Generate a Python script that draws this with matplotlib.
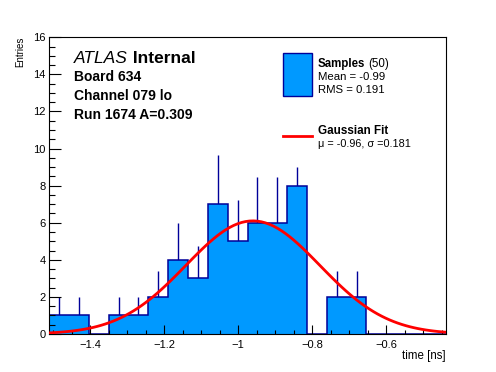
import numpy as np
import matplotlib
matplotlib.use("Agg")
import matplotlib.pyplot as plt
from matplotlib.ticker import MultipleLocator, FuncFormatter
from matplotlib.patches import Rectangle
from matplotlib.lines import Line2D

# histogram of sample times, 20 equal bins over the axis range
x_range = [-1.510, -0.439]
counts = [1, 1, 0, 1, 1, 2, 4, 3, 7, 5, 6, 6, 8, 0, 2, 2, 0, 0, 0, 0]
errors = [1, 1, 0, 1, 1, 1.41, 2, 1.73, 2.65, 2.24, 2.45, 2.45, 1.0, 0, 1.41, 1.41, 0, 0, 0, 0]

# gaussian fit parameters
fit_amp = 6.1
fit_mu = -0.96
fit_sigma = 0.181

W, H = 496, 372
fill_col = '#0099ff'
edge_col = '#000099'

plt.rcParams['font.family'] = ['Liberation Sans', 'DejaVu Sans']

def fx(px):
    return px / W

def fy(py):
    return 1 - py / H

fig = plt.figure(figsize=(W / 100, H / 100), dpi=100)
ax = fig.add_axes([fx(49.3), fy(334), (445.7 - 49.3) / W, (334 - 37.3) / H])

edges = np.linspace(x_range[0], x_range[1], len(counts) + 1)
centers = 0.5 * (edges[:-1] + edges[1:])
counts = np.array(counts, dtype=float)
errors = np.array(errors)

# error bars (lower half hidden by the fill, as in the original)
m = counts > 0
ax.vlines(centers[m], counts[m] - errors[m], counts[m] + errors[m],
          color=edge_col, lw=1, zorder=0.9)
ax.stairs(counts, edges, fill=True, color=fill_col, lw=0, zorder=1)
ax.stairs(counts, edges, fill=False, color=edge_col, lw=1.1, zorder=1.1)

# gaussian fit curve
xs = np.linspace(x_range[0], x_range[1], 100)
ax.plot(xs, fit_amp * np.exp(-0.5 * ((xs - fit_mu) / fit_sigma) ** 2),
        color='red', lw=2, zorder=3)

ax.set_xlim(x_range)
ax.set_ylim(0, 16)

ax.xaxis.set_major_locator(MultipleLocator(0.2))
ax.xaxis.set_minor_locator(MultipleLocator(0.05))
ax.yaxis.set_major_locator(MultipleLocator(2))
ax.yaxis.set_minor_locator(MultipleLocator(0.5))
ax.xaxis.set_major_formatter(FuncFormatter(lambda v, p: f"{v:g}".replace('-', '\u2212')))

ax.tick_params(which='both', direction='in', top=False, right=False, labelsize=8, width=0.8)
ax.tick_params(axis='x', which='major', length=6.5, pad=4)
ax.tick_params(axis='x', which='minor', length=3.2)
ax.tick_params(axis='y', which='major', length=8.6, pad=2.5)
ax.tick_params(axis='y', which='minor', length=4.3)
for s in ax.spines.values():
    s.set_linewidth(0.8)

# axis titles
fig.text(fx(445.7), fy(359), 'time [ns]', ha='right', va='baseline', fontsize=8.3)
fig.text(fx(20), fy(36.5), 'Entries', ha='center', va='top', rotation=90, fontsize=7)

# ATLAS label block
t = fig.text(fx(74), fy(63.3), 'ATLAS', style='italic', fontsize=12.5, va='baseline')
fig.canvas.draw()
ax.annotate(' Internal', xy=(1, 0), xycoords=t, va='bottom', fontsize=12.5,
            fontweight='bold', annotation_clip=False)
fig.text(fx(74), fy(81), 'Board 634', fontweight='bold', fontsize=10, va='baseline')
fig.text(fx(74), fy(100), 'Channel 079 lo', fontweight='bold', fontsize=10, va='baseline')
fig.text(fx(74), fy(119), 'Run 1674 A=0.309', fontweight='bold', fontsize=10, va='baseline')

# legend
fig.add_artist(Rectangle((fx(283.3), fy(96)), (311.7 - 283.3) / W, (96 - 53.3) / H,
                         transform=fig.transFigure, facecolor=fill_col,
                         edgecolor=edge_col, lw=1))
s = fig.text(fx(317.5), fy(66.7), 'Samples', fontweight='bold', fontsize=8.3, va='baseline')
fig.canvas.draw()
ax.annotate('(50)', xy=(1, 0), xycoords=s, xytext=(2.5, 0), textcoords='offset points',
            va='bottom', fontsize=8.3, annotation_clip=False)
fig.text(fx(317.5), fy(80), 'Mean = -0.99', fontsize=8.2, va='baseline')
fig.text(fx(317.5), fy(93.3), 'RMS = 0.191', fontsize=8.2, va='baseline')

fig.add_artist(Line2D([fx(283.3), fx(311.7)], [fy(136), fy(136)],
                      transform=fig.transFigure, color='red', lw=2))
fig.text(fx(317.5), fy(134), 'Gaussian Fit', fontweight='bold', fontsize=8.4, va='baseline')
fig.text(fx(317.5), fy(146.7), '\u03bc = -0.96, \u03c3 =0.181', fontsize=7.8, va='baseline')

fig.savefig('out.png', dpi=100)
